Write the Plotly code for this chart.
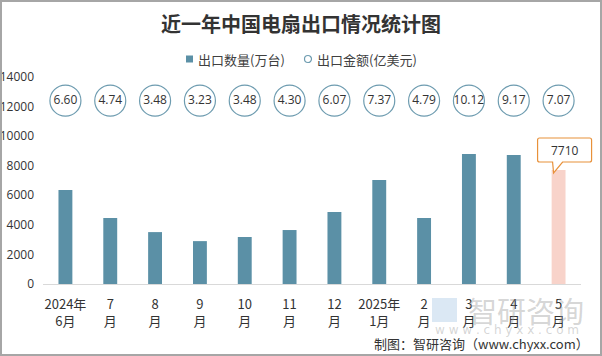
import plotly.graph_objects as go

months = ["2024年<br>6月", "7<br>月", "8<br>月", "9<br>月", "10<br>月", "11<br>月", "12<br>月",
          "2025年<br>1月", "2<br>月", "3<br>月", "4<br>月", "5<br>月"]
quantity = [6360, 4460, 3510, 2900, 3180, 3650, 4870, 7030, 4460, 8790, 8730, 7710]
amount = [6.60, 4.74, 3.48, 3.23, 3.48, 4.30, 6.07, 7.37, 4.79, 10.12, 9.17, 7.07]
amount_labels = [f"{v:.2f}" for v in amount]
legend_names = ["出口数量(万台)", "出口金额(亿美元)"]

W, H = 602, 356
ML, MR, MT, MB = 43, 21, 77, 72
PW = W - ML - MR
PH = H - MT - MB
YMAX = 14000


def px(x):
    return (x - ML) / PW


def py(y):
    return (H - MB - y) / PH


BAR = "#5B90A6"
HL = "#F8D3CA"
CIRC = "#6E9CB0"
ORANGE = "#E8913A"
CJK = "Noto Sans CJK SC"

bar_colors = [BAR] * (len(quantity) - 1) + [HL]

fig = go.Figure()
fig.add_trace(go.Bar(
    x=list(range(len(months))), y=quantity, name=legend_names[0],
    marker=dict(color=bar_colors, line=dict(width=0)),
    width=0.31, showlegend=False, hoverinfo="skip",
))
circle_y = 12400
fig.add_trace(go.Scatter(
    x=list(range(len(months))), y=[circle_y] * len(amount), name=legend_names[1],
    mode="markers+text", text=amount_labels, textposition="middle center",
    textfont=dict(family="Open Sans, " + CJK, size=12, color="#333333"),
    marker=dict(size=31, color="white", line=dict(color=CIRC, width=1.2)),
    showlegend=False, hoverinfo="skip",
))

# custom legend
fig.add_shape(type="rect", xref="paper", yref="paper",
              x0=px(186), x1=px(193), y0=py(62.5), y1=py(55.5),
              line=dict(width=0), fillcolor=BAR)
fig.add_annotation(xref="paper", yref="paper", x=px(196), y=py(59), xanchor="left",
                   yanchor="middle", text=legend_names[0], showarrow=False,
                   font=dict(family=CJK, size=13, color="#404040"))
fig.add_shape(type="circle", xref="paper", yref="paper",
              x0=px(304.5), x1=px(311.5), y0=py(62.5), y1=py(55.5),
              line=dict(width=1.2, color=CIRC), fillcolor="white")
fig.add_annotation(xref="paper", yref="paper", x=px(315), y=py(59), xanchor="left",
                   yanchor="middle", text=legend_names[1], showarrow=False,
                   font=dict(family=CJK, size=13, color="#404040"))

# callout bubble anchored to the last bar top (pixel sizing, paper ref so it is not clipped)
last = len(quantity) - 1
n = len(quantity)
bubble = ("M -21 10 Q -21 8 -19 8 L -6 8 L -5 -3 L 4 8 L 31 8 Q 33 8 33 10 "
          "L 33 30 Q 33 32 31 32 L -19 32 Q -21 32 -21 30 Z")
fig.add_shape(type="path", xref="paper", yref="paper", xsizemode="pixel", ysizemode="pixel",
              xanchor=(last + 0.5) / n, yanchor=quantity[last] / YMAX, path=bubble,
              line=dict(color=ORANGE, width=1.2), fillcolor="white", layer="above")
fig.add_annotation(x=last, y=quantity[last], xref="x", yref="y", text=str(quantity[last]),
                   showarrow=False, xshift=6, yshift=20, xanchor="center", yanchor="middle",
                   font=dict(family="Open Sans, " + CJK, size=12, color="#333333"))

# outer frame
fig.add_shape(type="rect", xref="paper", yref="paper",
              x0=px(1), x1=px(W - 1), y0=py(H - 1), y1=py(1),
              line=dict(color="#A6A6A6", width=2), fillcolor="rgba(0,0,0,0)", layer="above")

# watermark
fig.add_shape(type="rect", xref="paper", yref="paper",
              x0=px(432), x1=px(457), y0=py(322), y1=py(298),
              line=dict(width=0), fillcolor="rgba(175,205,230,0.45)", layer="below")
fig.add_annotation(xref="paper", yref="paper", x=px(526), y=py(310),
                   xanchor="center", yanchor="middle",
                   text="智研咨询", showarrow=False,
                   font=dict(family=CJK, size=29, color="rgba(150,150,150,0.40)"))
fig.add_annotation(xref="paper", yref="paper", x=px(507), y=py(330),
                   xanchor="center", yanchor="middle",
                   text="w w w . c h y x x . c o m", showarrow=False,
                   font=dict(family="DejaVu Sans", size=12, color="rgba(150,150,150,0.40)"))

# footer
fig.add_annotation(xref="paper", yref="paper", x=px(591), y=py(343),
                   xanchor="right", yanchor="middle",
                   text="制图：智研咨询（www.chyxx.com）", showarrow=False,
                   font=dict(family=CJK, size=13, color="#333333"))

fig.update_layout(
    width=W, height=H,
    margin=dict(l=ML, r=MR, t=MT, b=MB, autoexpand=False),
    paper_bgcolor="white", plot_bgcolor="white",
    showlegend=False,
    title=dict(text="<b>近一年中国电扇出口情况统计图</b>", x=0.5, xanchor="center",
               y=1 - 25 / H, yanchor="middle",
               font=dict(family=CJK, size=20, color="#333333")),
    xaxis=dict(tickmode="array", tickvals=list(range(n)), ticktext=months,
               range=[-0.5, n - 0.5], showline=True, linecolor="#D9D9D9",
               linewidth=1, showgrid=False, ticks="", zeroline=False, automargin=False,
               ticklabelstandoff=8,
               tickfont=dict(family=CJK, size=13, color="#333333")),
    yaxis=dict(range=[0, YMAX], dtick=2000, tickformat="d", showgrid=False, zeroline=False,
               showline=False, ticks="", automargin=False, ticklabelstandoff=8,
               tickfont=dict(family="Open Sans", size=12, color="#333333")),
)

fig.write_html("out.html", config={"displayModeBar": False},
               post_script="document.body.style.margin='0';")
